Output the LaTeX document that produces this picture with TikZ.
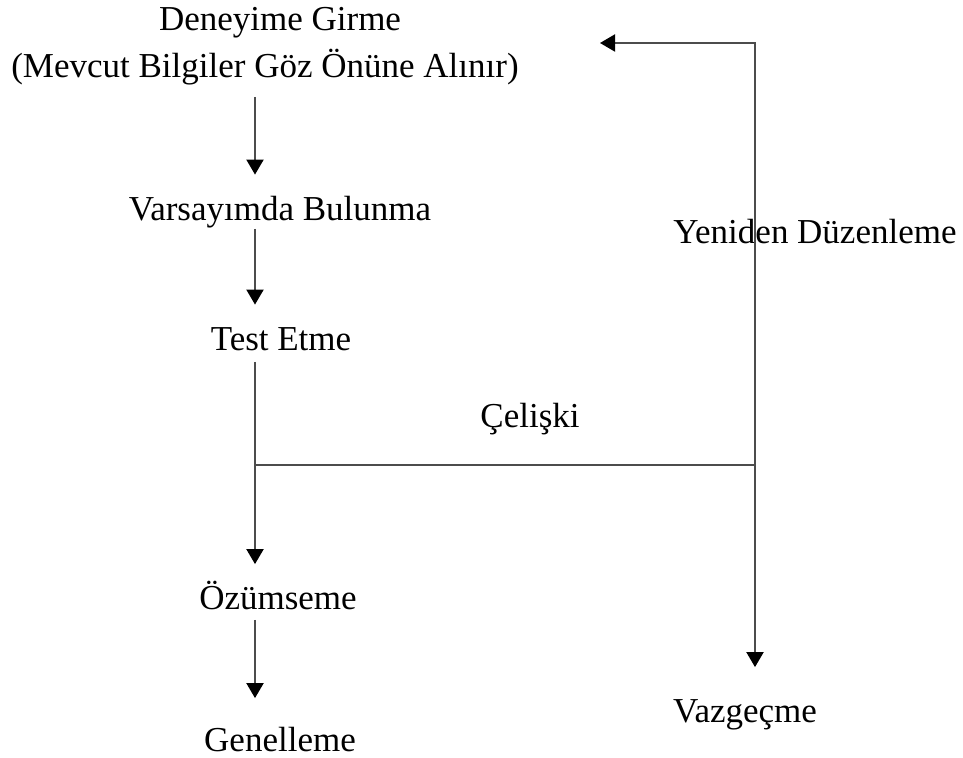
\documentclass[tikz,border=0pt]{standalone}
\usepackage{fontspec}
\setmainfont{Liberation Serif}
\usepackage{tikz}
\usetikzlibrary{arrows.meta}

\tikzset{
  ucu/.tip={Triangle[length=7.5pt,width=8.5pt,color=black]},
  etiket/.style={inner sep=0pt, anchor=base, text height=12.25pt, text depth=5.25pt},
  cizgi/.style={draw=black!70, line width=1pt},
  ok/.style={cizgi, -ucu}
}

\begin{document}
\begin{tikzpicture}[x=0.5pt, y=-0.5pt, font=\fontsize{17.5}{23.5}\selectfont]
    \useasboundingbox (0,0) rectangle (963,758);
    \node[etiket] (dg) at (280,31) {Deneyime Girme};
    \node[etiket] (mb) at (265,78) {(Mevcut Bilgiler Göz Önüne Alınır)};
    \node[etiket] (vb) at (280,221) {Varsayımda Bulunma};
    \node[etiket] (te) at (281,351) {Test Etme};
    \node[etiket] (cel) at (530,428) {Çelişki};
    \node[etiket] (oz) at (278,609) {Özümseme};
    \node[etiket] (gn) at (280,751) {Genelleme};
    \node[etiket] (yd) at (815,244) {Yeniden Düzenleme};
    \node[etiket] (vz) at (745,722) {Vazgeçme};

    \coordinate (sol) at (255,0);
    \coordinate (sag) at (755,0);
    \coordinate (ust) at (755,43);
    \coordinate (donus) at (600,43);
    \coordinate (ayrim) at (255,465);
    \coordinate (kose) at (755,465);

    \draw[ok, shorten <=4pt, shorten >=10.75pt] (mb.south -| sol) -- (vb.north -| sol);
    \draw[ok, shorten <=-1.5pt, shorten >=10.75pt] (vb.south -| sol) -- (te.north -| sol);
    \draw[ok, shorten >=10pt] (te.south -| sol) -- (oz.north -| sol);
    \draw[ok, shorten >=14pt] (oz.south -| sol) -- (gn.north -| sol);
    \draw[cizgi] (ayrim) -- (kose);
    \draw[cizgi, ucu-ucu, shorten <=15pt] (vz.north -| sag) -- (ust) -- (donus);
\end{tikzpicture}
\end{document}
